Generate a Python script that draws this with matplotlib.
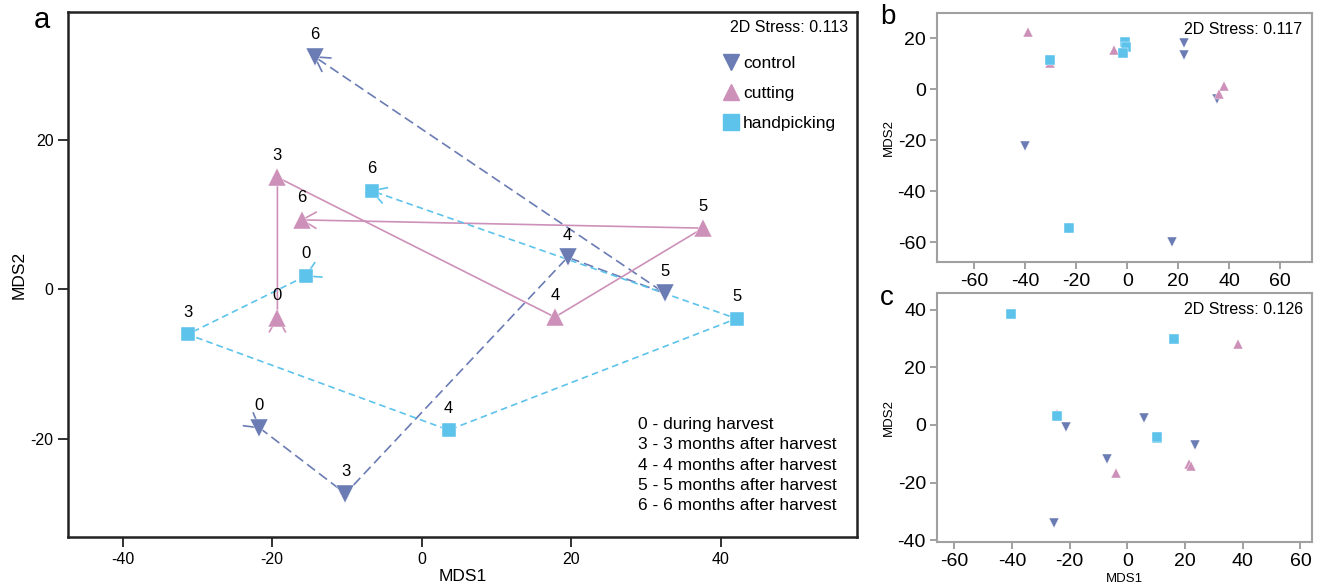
import numpy as np
import matplotlib.pyplot as plt
from matplotlib.lines import Line2D

plt.rcParams['font.family'] = ['Liberation Sans', 'DejaVu Sans']
plt.rcParams['axes.unicode_minus'] = False

# ---- data ----
months = [0, 3, 4, 5, 6]
groups = ["control", "cutting", "handpicking"]

# panel a (trajectories, order = months)
a_control_x = [-21.7, -10.2, 19.5, 32.5, -14.3]
a_control_y = [-18.5, -27.3, 4.3, -0.5, 31.1]
a_cutting_x = [-19.3, -19.3, 17.8, 37.6, -16.0]
a_cutting_y = [-3.8, 15.0, -3.7, 8.2, 9.3]
a_hand_x = [-15.5, -31.3, 3.6, 42.1, -6.7]
a_hand_y = [1.8, -6.0, -18.8, -3.9, 13.2]

# panel b
b_control_x = [-40.3, 17.5, 22.3, 22.1, 35.4]
b_control_y = [-22.5, -60.0, 18.0, 13.2, -3.8]
b_cutting_x = [-38.8, -30.5, -5.1, 38.0, 36.0]
b_cutting_y = [22.4, 10.2, 15.4, 1.2, -1.8]
b_hand_x = [-30.3, -23.0, -1.0, -0.5, -1.5]
b_hand_y = [11.5, -54.4, 18.5, 16.5, 14.0]

# panel c
c_control_x = [-25.5, -21.3, -7.1, 5.7, 23.3]
c_control_y = [-33.9, -0.8, -11.9, 2.6, -7.0]
c_cutting_x = [-24.3, -4.1, 21.2, 22.0, 38.4]
c_cutting_y = [3.8, -16.8, -13.7, -14.3, 28.1]
c_hand_x = [-40.5, -24.3, 10.4, 10.2, 16.2]
c_hand_y = [38.5, 3.2, -4.4, -4.0, 29.7]

stress = ["2D Stress: 0.113", "2D Stress: 0.117", "2D Stress: 0.126"]
month_notes = ["0 - during harvest", "3 - 3 months after harvest",
               "4 - 4 months after harvest", "5 - 5 months after harvest",
               "6 - 6 months after harvest"]

colors = {"control": "#6B7CB4", "cutting": "#CD91B9", "handpicking": "#5DC3EB"}
markers = {"control": "v", "cutting": "^", "handpicking": "s"}
dashes = {"control": (6, 3), "cutting": None, "handpicking": (4, 2.5)}

W, H = 1321, 587
fig = plt.figure(figsize=(W / 100, H / 100), dpi=100)


def box(l, t, r, b):
    return [l / W, 1 - b / H, (r - l) / W, (b - t) / H]


def barbs(ax, p, q, color, outward=False, length=16, ang=30):
    # open arrowhead at p, pointing along q->p (or away from q when outward)
    T = ax.transData
    P = T.transform(p)
    Q = T.transform(q)
    d = Q - P
    d = d / np.hypot(*d)
    if outward:
        d = -d
    for s in (-1, 1):
        a = np.deg2rad(s * ang)
        rd = np.array([d[0] * np.cos(a) - d[1] * np.sin(a),
                       d[0] * np.sin(a) + d[1] * np.cos(a)])
        E = T.inverted().transform(P + length * rd)
        ax.plot([p[0], E[0]], [p[1], E[1]], color=color, lw=1.2, zorder=2)


# ---- panel a ----
ax = fig.add_axes(box(68, 12, 857, 537))
ax.set_xlim(-47.3, 58.2)
ax.set_ylim(-33.1, 37.1)

traj = {"control": (a_control_x, a_control_y),
        "cutting": (a_cutting_x, a_cutting_y),
        "handpicking": (a_hand_x, a_hand_y)}

for g in groups:
    xs, ys = traj[g]
    ln, = ax.plot(xs, ys, color=colors[g], lw=1.2, zorder=2)
    if dashes[g]:
        ln.set_dashes(dashes[g])
    ax.plot(xs, ys, ls="none", marker=markers[g], color=colors[g],
            ms=10.5 if g == "handpicking" else 12.5, mec="white", mew=0.3, zorder=3)
    for x, y, m in zip(xs, ys, months):
        ax.annotate(str(m), (x, y), xytext=(0, 22), textcoords="offset pixels",
                    ha="center", va="center", fontsize=12)
    barbs(ax, (xs[-1], ys[-1]), (xs[-2], ys[-2]), colors[g])
    barbs(ax, (xs[0], ys[0]), (xs[1], ys[1]), colors[g], outward=True)

ax.set_xticks([-40, -20, 0, 20, 40])
ax.set_yticks([-20, 0, 20])
ax.tick_params(labelsize=11.5, length=7, width=1.3, color="#222222")
for sp in ax.spines.values():
    sp.set_linewidth(1.8)
    sp.set_color("#222222")
ax.set_xlabel("MDS1", fontsize=12.5, labelpad=2)
ax.set_ylabel("MDS2", fontsize=12.5, labelpad=3)

ax.text(0.9885, 0.97, stress[0], transform=ax.transAxes, ha="right",
        va="center", fontsize=11.5)
handles = [Line2D([], [], ls="none", marker=markers[g], color=colors[g],
                  ms=12 if g != "handpicking" else 11) for g in groups]
ax.legend(handles, groups, loc="upper left", bbox_to_anchor=(0.818, 0.93),
          frameon=False, fontsize=12.5, handletextpad=0.1, labelspacing=0.85,
          handlelength=1.2, borderaxespad=0)
ax.text(0.723, 0.2286, "\n".join(month_notes), transform=ax.transAxes,
        ha="left", va="top", fontsize=12.5, linespacing=1.44)
fig.text(42 / W, 1 - 20 / H, "a", fontsize=21, ha="center", va="center")


# ---- panels b and c ----
def scatter_panel(rect, xlim, ylim, yticks, data, note, letter, letter_pos, xlabel):
    ax = fig.add_axes(rect)
    for g in groups:
        xs, ys = data[g]
        ax.plot(xs, ys, ls="none", marker=markers[g], color=colors[g],
                ms=6.5 if g == "handpicking" else 7.5, mec="white", mew=0.3)
    ax.set_xlim(*xlim)
    ax.set_ylim(*ylim)
    ax.set_xticks([-60, -40, -20, 0, 20, 40, 60])
    ax.set_yticks(yticks)
    ax.tick_params(labelsize=14, length=5, width=1.3, color="#9A9A9A", pad=3)
    for sp in ax.spines.values():
        sp.set_linewidth(1.5)
        sp.set_color("#A0A0A0")
    ax.set_ylabel("MDS2", fontsize=9.5, labelpad=2)
    if xlabel:
        ax.set_xlabel("MDS1", fontsize=9.5, labelpad=2)
    ax.text(0.975, 0.935, note, transform=ax.transAxes, ha="right",
            va="center", fontsize=11.5)
    fig.text(letter_pos[0] / W, 1 - letter_pos[1] / H, letter, fontsize=20,
             ha="center", va="center")
    return ax


scatter_panel(box(937, 13, 1312, 262), (-74.7, 72.5), (-67.8, 29.8),
              [-60, -40, -20, 0, 20],
              {"control": (b_control_x, b_control_y),
               "cutting": (b_cutting_x, b_cutting_y),
               "handpicking": (b_hand_x, b_hand_y)},
              stress[1], "b", (888, 17), False)

scatter_panel(box(937, 293, 1312, 542), (-66, 64), (-40.6, 45.8),
              [-40, -20, 0, 20, 40],
              {"control": (c_control_x, c_control_y),
               "cutting": (c_cutting_x, c_cutting_y),
               "handpicking": (c_hand_x, c_hand_y)},
              stress[2], "c", (887, 298), True)

fig.savefig("out.png", dpi=100)
